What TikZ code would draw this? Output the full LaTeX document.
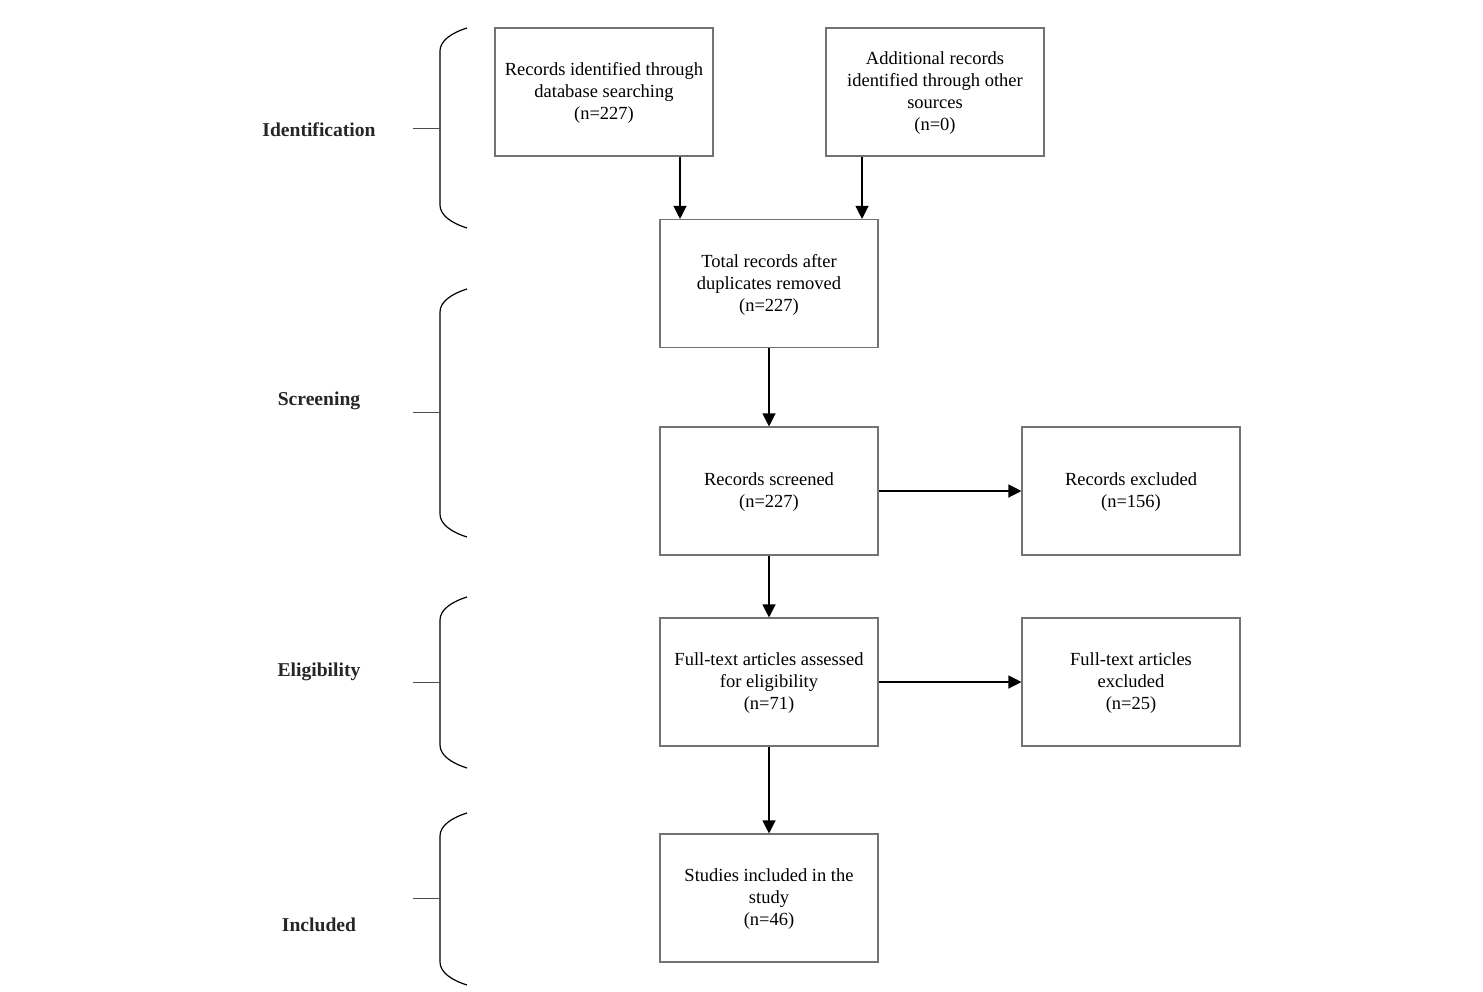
\documentclass[tikz,border=0pt]{standalone}
\usepackage{fontspec}
\setmainfont{Liberation Serif}
\usetikzlibrary{arrows.meta}
\begin{document}
\begin{tikzpicture}[x=0.5pt,y=-0.5pt,
  box/.style={draw=black!55, line width=0.55pt, minimum width=109pt, minimum height=64pt, align=center, inner sep=0pt, font=\fontsize{9.25}{11}\selectfont},
  arr/.style={-{Triangle[length=6.5pt,width=6.5pt]}, line width=0.6pt, black},
  phase/.style={font=\fontsize{9.8}{12}\selectfont\bfseries, text=black!85},
  brace/.style={line width=0.6pt, black},
  tick/.style={line width=0.5pt, black!70}]
\useasboundingbox (0,0) rectangle (1483,991);
\fill[white] (0,0) rectangle (1483,991);

\node[box] (A) at (604,92) {\strut Records identified through\\database searching\\(n=227)};
\node[box] (B) at (935,92) {\strut Additional records\\identified through other\\sources\\(n=0)};
\node[box] (C) at (769,283.5) {\strut Total records after\\duplicates removed\\(n=227)};
\node[box] (D) at (769,491) {\strut Records screened\\(n=227)};
\node[box] (E) at (1131,491) {\strut Records excluded\\(n=156)};
\node[box] (F) at (769,682) {\strut Full-text articles assessed\\for eligibility\\(n=71)};
\node[box] (G) at (1131,682) {\strut Full-text articles\\excluded\\(n=25)};
\node[box] (H) at (769,898) {\strut Studies included in the\\study\\(n=46)};

\draw[arr] (A.south -| 680,0) -- (C.north -| 680,0);
\draw[arr] (B.south -| 862,0) -- (C.north -| 862,0);
\draw[arr] (C) -- (D);
\draw[arr] (D) -- (E);
\draw[arr] (D) -- (F);
\draw[arr] (F) -- (G);
\draw[arr] (F) -- (H);

\node[phase] (p1) at (319,130) {Identification};
\node[phase] (p2) at (319,401) {Screening};
\node[phase] (p3) at (319,672) {Eligibility};
\node[phase] (p4) at (319,925) {Included};

% braces: top, bottom, tick y
\foreach \t/\b/\m in {28/228/128, 289/537/412, 597/768/682, 813/985/898}{
  \draw[brace] (467,\t) .. controls (451,\t+5) and (440,\t+13) .. (440,\t+23)
     -- (440,\b-23) .. controls (440,\b-13) and (451,\b-5) .. (467,\b);
  \draw[tick] (413,\m) -- (440,\m);
}
\end{tikzpicture}
\end{document}
